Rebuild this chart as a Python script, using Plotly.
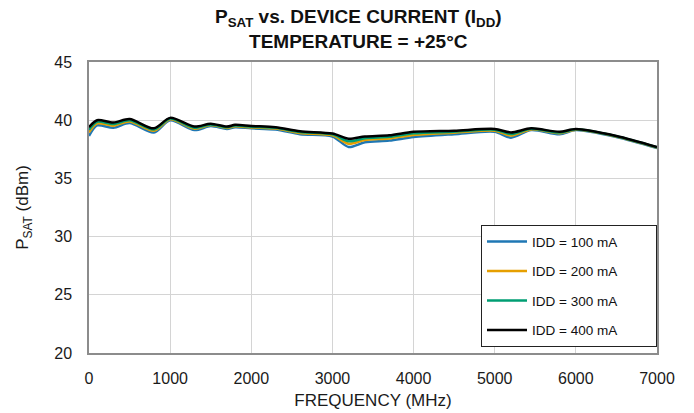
import plotly.graph_objects as go

# Saturated output power vs. frequency for four drain-current settings, 25 °C
freq_mhz = [0, 100, 300, 500, 800, 1000, 1300, 1500, 1700, 1800, 2000, 2300, 2600,
            3000, 3200, 3400, 3700, 4000, 4500, 5000, 5200, 5450, 5800, 6000, 6500, 7000]

psat_100ma = [38.65, 39.55, 39.35, 39.75, 38.95, 40.0, 39.15, 39.5, 39.25, 39.4, 39.3, 39.2, 38.8,
              38.6, 37.7, 38.1, 38.25, 38.55, 38.8, 39.0, 38.5, 39.15, 38.8, 39.15, 38.55, 37.6]
psat_200ma = [38.95, 39.73, 39.53, 39.89, 39.09, 40.08, 39.27, 39.58, 39.33, 39.48, 39.38, 39.28, 38.9,
              38.7, 37.98, 38.3, 38.43, 38.73, 38.92, 39.1, 38.68, 39.21, 38.88, 39.19, 38.59, 37.64]
psat_300ma = [39.18, 39.87, 39.67, 40.0, 39.2, 40.14, 39.36, 39.64, 39.39, 39.54, 39.44, 39.34, 38.98,
              38.78, 38.19, 38.45, 38.57, 38.87, 39.01, 39.18, 38.82, 39.26, 38.94, 39.22, 38.62, 37.67]
psat_400ma = [39.4, 40.0, 39.8, 40.1, 39.3, 40.2, 39.45, 39.7, 39.45, 39.6, 39.5, 39.4, 39.05,
              38.85, 38.4, 38.6, 38.7, 39.0, 39.1, 39.25, 38.95, 39.3, 39.0, 39.25, 38.65, 37.7]

series_names = ["IDD = 100 mA", "IDD = 200 mA", "IDD = 300 mA", "IDD = 400 mA"]
series_colors = ["#1f77b4", "#e69f00", "#009e73", "#000000"]
series_values = [psat_100ma, psat_200ma, psat_300ma, psat_400ma]

x_ticks = [0, 1000, 2000, 3000, 4000, 5000, 6000, 7000]
y_ticks = [20, 25, 30, 35, 40, 45]

title_lines = ["P<sub>SAT</sub> vs. DEVICE CURRENT (I<sub>DD</sub>)", "TEMPERATURE = +25°C"]

FONT = "Liberation Sans, Arial, sans-serif"
TEXT = "#1a1a1a"

fig = go.Figure()
for name, color, vals in zip(series_names, series_colors, series_values):
    fig.add_trace(go.Scatter(
        x=freq_mhz, y=vals, name=name + "\u2003\u2003\u2002", mode="lines",
        line=dict(color=color, width=2.5, shape="spline", smoothing=0.8),
        legendgroup=name,
    ))

axis_common = dict(
    showline=True, linecolor="#8c8c8c", linewidth=1.5, mirror=True,
    showgrid=True, gridcolor="#d4d4d4", gridwidth=1,
    ticks="", zeroline=False, automargin=False,
    tickfont=dict(family=FONT, size=16, color=TEXT),
)

# two-line bold heading above the plot area
fig.add_annotation(
    text="<b>" + "<br>".join(title_lines) + "</b>",
    xref="paper", yref="paper", x=(358 - 89) / 567, y=(353 - 29) / 291,
    xanchor="center", yanchor="middle", showarrow=False,
    font=dict(family=FONT, size=19, color="#111111"),
)

fig.update_layout(
    width=694, height=413,
    margin=dict(l=89, r=37, t=62, b=60),
    paper_bgcolor="white", plot_bgcolor="white",
    font=dict(family=FONT, color=TEXT),
    xaxis=dict(
        range=[0, 7000], tickvals=x_ticks, ticklabelstandoff=10,
        title=dict(text="FREQUENCY (MHz)", font=dict(family=FONT, size=17, color=TEXT), standoff=8),
        **axis_common,
    ),
    yaxis=dict(
        range=[20, 45], tickvals=y_ticks, ticklabelstandoff=12,
        title=dict(text="P<sub>SAT</sub> (dBm)", font=dict(family=FONT, size=17, color=TEXT), standoff=21),
        **axis_common,
    ),
    legend=dict(
        x=1.0, xanchor="right", y=0.02, yanchor="bottom",
        bgcolor="white", bordercolor="#222222", borderwidth=1,
        font=dict(family=FONT, size=13.5, color="#111111"),
        tracegroupgap=9, traceorder="grouped",
        itemwidth=40,
    ),
)

fig.write_html("out.html")
